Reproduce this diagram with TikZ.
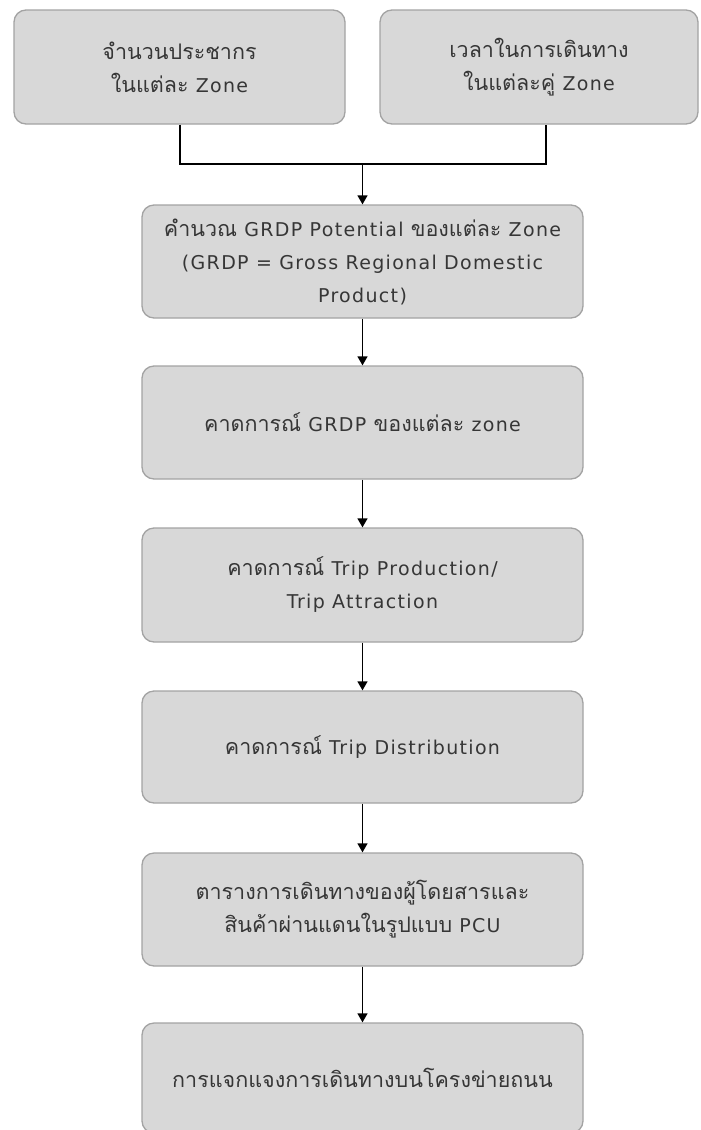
\documentclass[tikz,border=0pt]{standalone}
\usepackage{fontspec}
\setmainfont[Script=Thai]{Loma}
\newfontfamily\latinfont[LetterSpace=7]{DejaVu Sans}
\newcommand\latn[1]{{\latinfont\fontsize{19pt}{33pt}\selectfont #1}}
\usetikzlibrary{arrows.meta}
\definecolor{boxfill}{HTML}{D8D8D8}
\definecolor{boxline}{HTML}{A3A3A3}
\definecolor{boxtext}{HTML}{363636}
\tikzset{
  procbox/.style={draw=boxline, fill=boxfill, line width=1.3pt, rounded corners=12pt,
    text=boxtext, align=center, font=\fontsize{21.5pt}{33pt}\selectfont, inner sep=0pt},
  flow/.style={line width=1.4pt, black, -{Triangle[length=9pt,width=10pt]}},
  link/.style={line width=1.4pt, black}
}
\begin{document}
\begin{tikzpicture}[x=1pt,y=-1pt]
\useasboundingbox (0,0) rectangle (701,1130);
\node[procbox, minimum width=331pt, minimum height=114pt] (b1) at (179.5,67) {จำนวนประชากร\\ในแต่ละ \latn{Zone}};
\node[procbox, minimum width=318pt, minimum height=114pt] (b2) at (539,67) {เวลาในการเดินทาง\\ในแต่ละคู่ \latn{Zone}};
\node[procbox, minimum width=441pt, minimum height=113pt] (b3) at (362.5,261.5) {คำนวณ \latn{GRDP Potential} ของแต่ละ \latn{Zone}\\\latn{(GRDP = Gross Regional Domestic}\\\latn{Product)}};
\node[procbox, minimum width=441pt, minimum height=113pt] (b4) at (362.5,422.5) {คาดการณ์ \latn{GRDP} ของแต่ละ \latn{zone}};
\node[procbox, minimum width=441pt, minimum height=114pt] (b5) at (362.5,585) {คาดการณ์ \latn{Trip Production/}\\\latn{Trip Attraction}};
\node[procbox, minimum width=441pt, minimum height=112pt] (b6) at (362.5,747) {คาดการณ์ \latn{Trip Distribution}};
\node[procbox, minimum width=441pt, minimum height=113pt] (b7) at (362.5,909.5) {ตารางการเดินทางของผู้โดยสารและ\\สินค้าผ่านแดนในรูปแบบ \latn{PCU}};
\node[procbox, minimum width=441pt, minimum height=110pt] (b8) at (362.5,1078) {การแจกแจงการเดินทางบนโครงข่ายถนน};
\coordinate (jl) at (180,164);
\coordinate (jr) at (546,164);
\coordinate (jm) at (362.5,164);
\draw[link] (b1.south -| jl) -- (jl) -- (jr) -- (b2.south -| jr);
\draw[flow] (jm) -- (b3.north);
\draw[flow] (b3.south) -- (b4.north);
\draw[flow] (b4.south) -- (b5.north);
\draw[flow] (b5.south) -- (b6.north);
\draw[flow] (b6.south) -- (b7.north);
\draw[flow] (b7.south) -- (b8.north);
\end{tikzpicture}
\end{document}
